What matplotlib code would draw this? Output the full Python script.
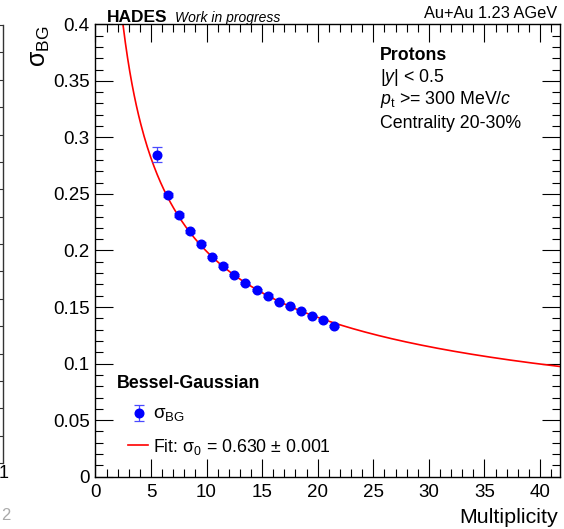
import numpy as np
import matplotlib
matplotlib.use("Agg")
import matplotlib.pyplot as plt
from matplotlib.ticker import MultipleLocator

plt.rcParams['font.family'] = ['Liberation Sans', 'DejaVu Sans']
plt.rcParams['mathtext.fontset'] = 'custom'
plt.rcParams['mathtext.rm'] = 'Liberation Sans'
plt.rcParams['mathtext.it'] = 'Liberation Sans:italic'
plt.rcParams['mathtext.bf'] = 'Liberation Sans:bold'

# sigma_BG vs multiplicity (protons, 20-30% centrality)
mult = [5.5, 6.5, 7.5, 8.5, 9.5, 10.5, 11.5, 12.5, 13.5, 14.5,
        15.5, 16.5, 17.5, 18.5, 19.5, 20.5, 21.5]
sigma_bg = [0.2847, 0.2490, 0.2313, 0.2168, 0.2059, 0.1944, 0.1867, 0.1785, 0.1711,
            0.1649, 0.1602, 0.1549, 0.1505, 0.1466, 0.1425, 0.1384, 0.1331]
sigma_err = [0.0065, 0.0018, 0.0015, 0.0013, 0.0012, 0.0011, 0.0010, 0.0010, 0.0009,
             0.0009, 0.0009, 0.0008, 0.0008, 0.0008, 0.0008, 0.0008, 0.0009]

# fit sigma = sigma0 / sqrt(M)
sigma0 = 0.630
sigma0_err = 0.001

W, H = 564, 529
fig = plt.figure(figsize=(W / 100, H / 100), dpi=100)

def fx(px):
    return px / W

def fy(py):
    return 1 - py / H

# edge of the neighbouring pad on the left
axn = fig.add_axes([-0.3, fy(463), 0.3 + fx(3), fy(25) - fy(463)])
axn.set_xlim(0, 1)
axn.set_ylim(0, 16)
for s in ['left', 'top', 'bottom']:
    axn.spines[s].set_visible(False)
axn.spines['right'].set_linewidth(1.0)
axn.spines['right'].set_color('#333333')
axn.set_xticks([])
axn.yaxis.set_ticks_position('right')
axn.yaxis.set_major_locator(MultipleLocator(1))
axn.tick_params(axis='y', direction='in', length=5, width=0.8, labelright=False, color='#333333')
fig.text(fx(4), fy(473), '1', fontsize=13, ha='center', va='center')
fig.text(fx(6), fy(515), '2', fontsize=12, ha='center', va='center', color='#aaaaaa')

ax = fig.add_axes([fx(95.4), fy(476.7), fx(560) - fx(95.4), fy(24.3) - fy(476.7)])

m = np.linspace(2.3, 41.8, 400)
ax.plot(m, sigma0 / np.sqrt(m), color='red', lw=1.2, zorder=2)
ax.errorbar(mult, sigma_bg, yerr=sigma_err, fmt='o', color='blue', ms=6.2,
            ecolor='#4a4aff', elinewidth=0.9, capsize=3.5, capthick=0.9, zorder=3)

ax.set_xlim(0, 41.8)
ax.set_ylim(0, 0.4)
ax.xaxis.set_major_locator(MultipleLocator(5))
ax.xaxis.set_minor_locator(MultipleLocator(1))
ax.yaxis.set_minor_locator(MultipleLocator(0.01))
ax.set_yticks([0, 0.05, 0.1, 0.15, 0.2, 0.25, 0.3, 0.35, 0.4])
ax.set_yticklabels(['0', '0.05', '0.1', '0.15', '0.2', '0.25', '0.3', '0.35', '0.4'])
ax.tick_params(which='both', direction='in', top=True, right=True, labelsize=13.5, width=0.8)
ax.tick_params(which='major', length=13)
ax.tick_params(which='minor', length=6)
ax.tick_params(axis='x', pad=5)
ax.tick_params(axis='y', pad=4)
for s in ax.spines.values():
    s.set_linewidth(1.0)

fig.text(fx(558), fy(523), 'Multiplicity', fontsize=15.4, ha='right', va='baseline')
fig.text(fx(40), fy(25), r'σ$_{\mathrm{BG}}$', fontsize=18, rotation=90, ha='center', va='top')

fig.text(fx(107), fy(21.7), 'HADES', fontsize=12.5, fontweight='bold', va='baseline')
fig.text(fx(175), fy(21.5), 'Work in progress', fontsize=10, style='italic', va='baseline')
fig.text(fx(557), fy(18), 'Au+Au 1.23 AGeV', fontsize=11.8, ha='right', va='baseline')

fig.text(fx(380), fy(60), 'Protons', fontsize=12.8, fontweight='bold', va='baseline')
fig.text(fx(380), fy(82), r'|$y$| < 0.5', fontsize=12.8, va='baseline')
fig.text(fx(380), fy(104), r'$p_{\mathrm{t}}$ >= 300 MeV/$c$', fontsize=12.8, va='baseline')
fig.text(fx(380), fy(128), 'Centrality 20-30%', fontsize=12.8, va='baseline')

# legend drawn by hand, ROOT TLegend style
fig.text(fx(117), fy(388), 'Bessel-Gaussian', fontsize=12.8, fontweight='bold', va='baseline')
lx = (139 - 95.4) / 11.115
ax.errorbar([lx], [(476.7 - 413) / 1130], yerr=[8 / 1130], fmt='o', color='blue', ms=6.2,
            ecolor='#4a4aff', elinewidth=0.9, capsize=3.5, capthick=0.9, clip_on=False)
fig.text(fx(153), fy(418), r'σ$_{\mathrm{BG}}$', fontsize=13.5, va='baseline')
ax.plot([(128 - 95.4) / 11.115, (148 - 95.4) / 11.115], [(476.7 - 445) / 1130] * 2,
        color='red', lw=1.2)
fig.text(fx(153), fy(452), r'Fit: σ$_{0}$ = %.3f ± %.3f' % (sigma0, sigma0_err),
         fontsize=12.8, va='baseline')

fig.savefig('out.png', dpi=100)
